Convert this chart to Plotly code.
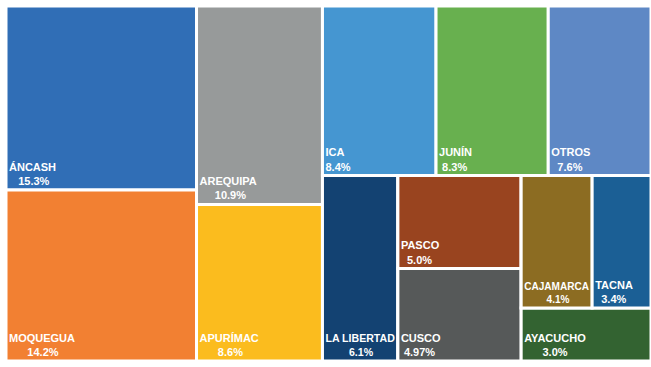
import plotly.graph_objects as go

# Regional shares
regions = ["ÁNCASH", "MOQUEGUA", "AREQUIPA", "APURÍMAC", "ICA", "JUNÍN", "OTROS",
           "LA LIBERTAD", "PASCO", "CUSCO", "CAJAMARCA", "TACNA", "AYACUCHO"]
shares = [15.3, 14.2, 10.9, 8.6, 8.4, 8.3, 7.6, 6.1, 5.0, 4.97, 4.1, 3.4, 3.0]
share_labels = ["15.3%", "14.2%", "10.9%", "8.6%", "8.4%", "8.3%", "7.6%",
                "6.1%", "5.0%", "4.97%", "4.1%", "3.4%", "3.0%"]
colors = ["#306EB6", "#F28032", "#979A9A", "#FBBC1E", "#4596D1", "#68B04F", "#5E88C5",
          "#134272", "#99441F", "#565959", "#8C6C22", "#1B5F95", "#336331"]

# Tile hierarchy for slice-dice packing (columns and rows alternate per level).
# Each entry: (node id, parent id); plain region names are leaves.
tree = [
    ("g_a", ""), ("ÁNCASH", "g_a"), ("MOQUEGUA", "g_a"),
    ("g_b", ""), ("AREQUIPA", "g_b"), ("APURÍMAC", "g_b"),
    ("g_c", ""),
    ("g_c1", "g_c"), ("ICA", "g_c1"), ("JUNÍN", "g_c1"), ("OTROS", "g_c1"),
    ("g_c2", "g_c"), ("LA LIBERTAD", "g_c2"),
    ("g_d", "g_c2"), ("PASCO", "g_d"), ("CUSCO", "g_d"),
    ("g_e", "g_c2"), ("g_f", "g_e"), ("CAJAMARCA", "g_f"), ("TACNA", "g_f"),
    ("AYACUCHO", "g_e"),
]

# Approximate bold sans glyph widths (px at 12px) used to centre the
# percentage line under the region name.
_w = {c: 8.7 for c in "ABCDEHKNRUVXYÁ"}
_w.update({c: 9.3 for c in "GOQ"})
_w.update({"M": 10.0, "W": 11.3, "I": 3.3, "Í": 3.3, "J": 6.7, "L": 7.3, "T": 7.3,
           "F": 7.3, "P": 8.0, "S": 8.0, "Z": 7.3, " ": 3.3, ".": 3.3, "%": 10.7})
_w.update({c: 6.7 for c in "0123456789"})


def text_width(s):
    return sum(_w.get(c, 8.0) for c in s)


def centred(name, pct):
    gap = (text_width(name) - text_width(pct)) / 2
    n = max(0, int(round(gap / 3.3)))
    return "\u00a0" * n + pct


idx = {r: i for i, r in enumerate(regions)}
ids, labels, parents, values, texts, fill = [], [], [], [], [], []
for node, parent in tree:
    ids.append(node)
    parents.append(parent)
    if node in idx:
        i = idx[node]
        labels.append(node)
        values.append(shares[i])
        texts.append(f"<b>{node}</b><br><b>{centred(node, share_labels[i])}</b>")
        fill.append(colors[i])
    else:
        labels.append("")
        values.append(0)
        texts.append("")
        fill.append("white")

fig = go.Figure(go.Treemap(
    ids=ids,
    labels=labels,
    parents=parents,
    values=values,
    branchvalues="remainder",
    text=texts,
    texttemplate="%{text}",
    textposition="bottom left",
    textfont=dict(family="Liberation Sans, Arial, sans-serif", size=11, color="white"),
    marker=dict(colors=fill, line=dict(color="white", width=3),
                pad=dict(t=0, l=0, r=0, b=0)),
    tiling=dict(packing="slice-dice", pad=0),
    sort=False,
    pathbar=dict(visible=False),
    hoverinfo="skip",
))

fig.update_layout(
    width=651, height=367,
    margin=dict(l=6, r=0, t=6, b=6),
    paper_bgcolor="white",
)

fig.write_html("out.html")
